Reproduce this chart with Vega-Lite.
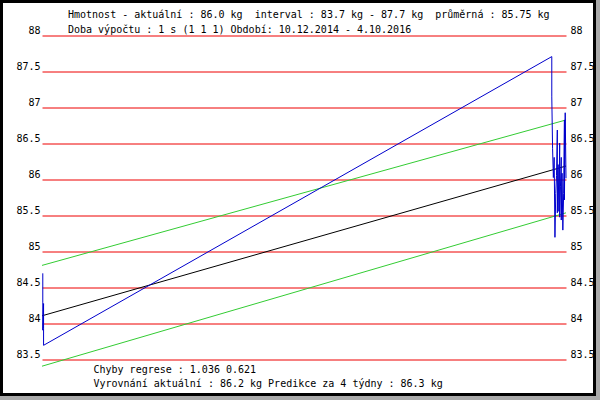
{
  "$schema": "https://vega.github.io/schema/vega-lite/v6.json",
  "width": 593,
  "height": 393,
  "autosize": {"type": "none"},
  "padding": {"left": 1.5, "top": 1.5, "right": 5.5, "bottom": 5.5},
  "background": "#a9a9a9",
  "config": {
    "view": {"stroke": "black", "strokeWidth": 3, "fill": "white"},
    "font": "DejaVu Sans Mono",
    "axis": {
      "labelFont": "DejaVu Sans Mono",
      "labelFontSize": 10,
      "labelColor": "black",
      "titleFont": "DejaVu Sans Mono",
      "titleFontSize": 10,
      "titleFontWeight": "normal",
      "titleColor": "black",
      "domain": false,
      "ticks": false
    }
  },
  "title": {
    "text": [
      "Hmotnost - aktuální : 86.0 kg \u00a0interval : 83.7 kg - 87.7 kg \u00a0průměrná : 85.75 kg",
      "Doba výpočtu : 1 s (1 1 1) Období: 10.12.2014 - 4.10.2016"
    ],
    "anchor": "start",
    "frame": "group",
    "offset": -33,
    "dx": 66.5,
    "font": "DejaVu Sans Mono",
    "fontSize": 10,
    "fontWeight": "normal",
    "color": "black",
    "lineHeight": 15
  },
  "datasets": {
    "vaha": [
      {"i": 1, "date": "2014-12-11", "kg": 84.69},
      {"i": 2, "date": "2014-12-11", "kg": 84.29},
      {"i": 3, "date": "2014-12-11", "kg": 83.90},
      {"i": 4, "date": "2014-12-12", "kg": 84.27},
      {"i": 5, "date": "2014-12-12", "kg": 83.92},
      {"i": 6, "date": "2014-12-12", "kg": 83.69},
      {"i": 7, "date": "2016-09-16", "kg": 87.70},
      {"i": 8, "date": "2016-09-16", "kg": 87.14},
      {"i": 9, "date": "2016-09-17", "kg": 86.42},
      {"i": 10, "date": "2016-09-18", "kg": 86.02},
      {"i": 11, "date": "2016-09-19", "kg": 86.30},
      {"i": 12, "date": "2016-09-20", "kg": 85.19},
      {"i": 13, "date": "2016-09-21", "kg": 85.80},
      {"i": 14, "date": "2016-09-22", "kg": 86.05},
      {"i": 15, "date": "2016-09-23", "kg": 86.68},
      {"i": 16, "date": "2016-09-23", "kg": 85.53},
      {"i": 17, "date": "2016-09-24", "kg": 86.20},
      {"i": 18, "date": "2016-09-25", "kg": 85.55},
      {"i": 19, "date": "2016-09-26", "kg": 86.50},
      {"i": 20, "date": "2016-09-26", "kg": 85.47},
      {"i": 21, "date": "2016-09-27", "kg": 85.90},
      {"i": 22, "date": "2016-09-28", "kg": 86.30},
      {"i": 23, "date": "2016-09-28", "kg": 85.43},
      {"i": 24, "date": "2016-09-29", "kg": 86.08},
      {"i": 25, "date": "2016-09-30", "kg": 85.29},
      {"i": 26, "date": "2016-10-01", "kg": 85.80},
      {"i": 27, "date": "2016-10-02", "kg": 86.82},
      {"i": 28, "date": "2016-10-02", "kg": 85.71},
      {"i": 29, "date": "2016-10-03", "kg": 86.92},
      {"i": 30, "date": "2016-10-04", "kg": 86.01}
    ],
    "regrese": [
      {"s": "horní", "date": "2014-12-10", "kg": 84.80},
      {"s": "horní", "date": "2016-10-04", "kg": 86.82},
      {"s": "regrese", "date": "2014-12-10", "kg": 84.10},
      {"s": "regrese", "date": "2016-10-04", "kg": 86.18},
      {"s": "dolní", "date": "2014-12-10", "kg": 83.40},
      {"s": "dolní", "date": "2016-10-04", "kg": 85.53}
    ]
  },
  "layer": [
    {
      "data": {"name": "regrese"},
      "mark": {"type": "line", "strokeWidth": 1},
      "encoding": {
        "x": {
          "field": "date",
          "type": "temporal",
          "scale": {
            "domain": [
              {"year": 2014, "month": 12, "date": 10, "utc": true},
              {"year": 2016, "month": 10, "date": 4, "utc": true}
            ],
            "range": [40.5, 564.5],
            "nice": false
          },
          "axis": {
            "orient": "bottom",
            "offset": -35.5,
            "domain": true,
            "domainOpacity": 0,
            "labels": false,
            "grid": false,
            "title": [
              "Chyby regrese : 1.036 0.621",
              "Vyrovnání aktuální : 86.2 kg Predikce za 4 týdny : 86.3 kg"
            ],
            "titleX": 91.5,
            "titleY": 13.5,
            "titleAlign": "left",
            "titleAnchor": "start",
            "titleBaseline": "alphabetic",
            "titleLineHeight": 14
          }
        },
        "y": {
          "field": "kg",
          "type": "quantitative",
          "scale": {"domain": [83.5, 88], "range": [357.5, 33.5], "nice": false, "zero": false},
          "axis": {
            "orient": "left",
            "offset": -40.5,
            "values": [83.5, 84, 84.5, 85, 85.5, 86, 86.5, 87, 87.5, 88],
            "format": "~g",
            "grid": true,
            "gridColor": "#ee0000",
            "gridOpacity": 1,
            "gridWidth": 1,
            "labelPadding": 2,
            "labelBaseline": "alphabetic",
            "labelOffset": -2,
            "title": null
          }
        },
        "color": {
          "field": "s",
          "type": "nominal",
          "scale": {"domain": ["horní", "regrese", "dolní"], "range": ["#33cc33", "#000000", "#33cc33"]},
          "legend": null
        }
      }
    },
    {
      "data": {"name": "vaha"},
      "mark": {"type": "line", "strokeWidth": 1, "color": "#0000cc"},
      "encoding": {
        "x": {"field": "date", "type": "temporal"},
        "y": {
          "field": "kg",
          "type": "quantitative",
          "axis": {
            "orient": "right",
            "offset": -28.5,
            "values": [83.5, 84, 84.5, 85, 85.5, 86, 86.5, 87, 87.5, 88],
            "format": "~g",
            "grid": false,
            "labelPadding": 4,
            "labelBaseline": "alphabetic",
            "labelOffset": -2,
            "title": null
          }
        },
        "order": {"field": "i", "type": "quantitative"}
      }
    }
  ]
}
